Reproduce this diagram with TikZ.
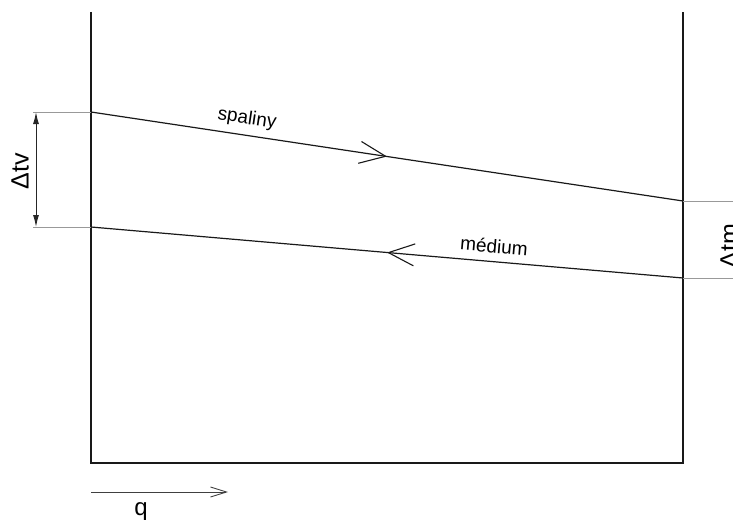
\documentclass[tikz,border=0pt]{standalone}
\usepackage{fontspec}
\setmainfont{Liberation Sans}
\usetikzlibrary{arrows.meta,decorations.markings}
\begin{document}
\begin{tikzpicture}[x=1pt,y=-1pt,
  mainline/.style={line width=1.2pt,black!90},
  helper/.style={line width=1pt,black!40},
  flowmark/.style={postaction={decorate},decoration={markings,
     mark=at position 0.5 with {\arrow{Straight Barb[length=26pt,width=22pt,line width=1.1pt]}}}},
  lbl/.style={font=\fontsize{19}{22}\selectfont,inner sep=0pt},
  dlbl/.style={font=\fontsize{25}{30}\selectfont,inner sep=0pt,rotate=90}
]
\useasboundingbox (0,0) rectangle (733,527);
% frame
\coordinate (tl) at (91,12);
\coordinate (bl) at (91,463);
\coordinate (br) at (683,463);
\coordinate (tr) at (683,12);
\draw[mainline] (tl) -- (bl) -- (br) -- (tr);
% flue gas line
\coordinate (s1) at (91,112);
\coordinate (s2) at (683,201);
\draw[mainline,flowmark] (s1) -- (s2);
% medium line
\coordinate (m1) at (91,227);
\coordinate (m2) at (683,278);
\draw[mainline,flowmark] (m2) -- (m1);
% helper lines
\coordinate (e1) at (33,112);
\coordinate (e2) at (33,227);
\coordinate (f1) at (733,201);
\coordinate (f2) at (733,278);
\draw[helper] (e1) -- (s1);
\draw[helper] (e2) -- (m1);
\draw[helper] (s2) -- (f1);
\draw[helper] (m2) -- (f2);
% dimension
\coordinate (d1) at (36,112);
\coordinate (d2) at (36,227);
\draw[line width=1pt,black!85,{Latex[length=12pt,width=6pt]}-{Latex[length=12pt,width=6pt]}] (d1) -- (d2);
\node[dlbl] (dtv) at (20,171) {Δtv};
\node[dlbl] (dtm) at (729,246) {Δtm};
% labels
\node[lbl,rotate=-8.5] (sp) at (247,119) {spaliny};
\node[lbl,rotate=-4.9] (md) at (494,246) {médium};
% q arrow
\coordinate (q1) at (91,492);
\coordinate (q2) at (228,492);
\draw[line width=0.9pt,black!75,-{Straight Barb[length=16pt,width=10pt]}] (q1) -- (q2);
\node[font=\fontsize{24}{28}\selectfont,inner sep=0pt] (q) at (141,512) {q};
\end{tikzpicture}
\end{document}
